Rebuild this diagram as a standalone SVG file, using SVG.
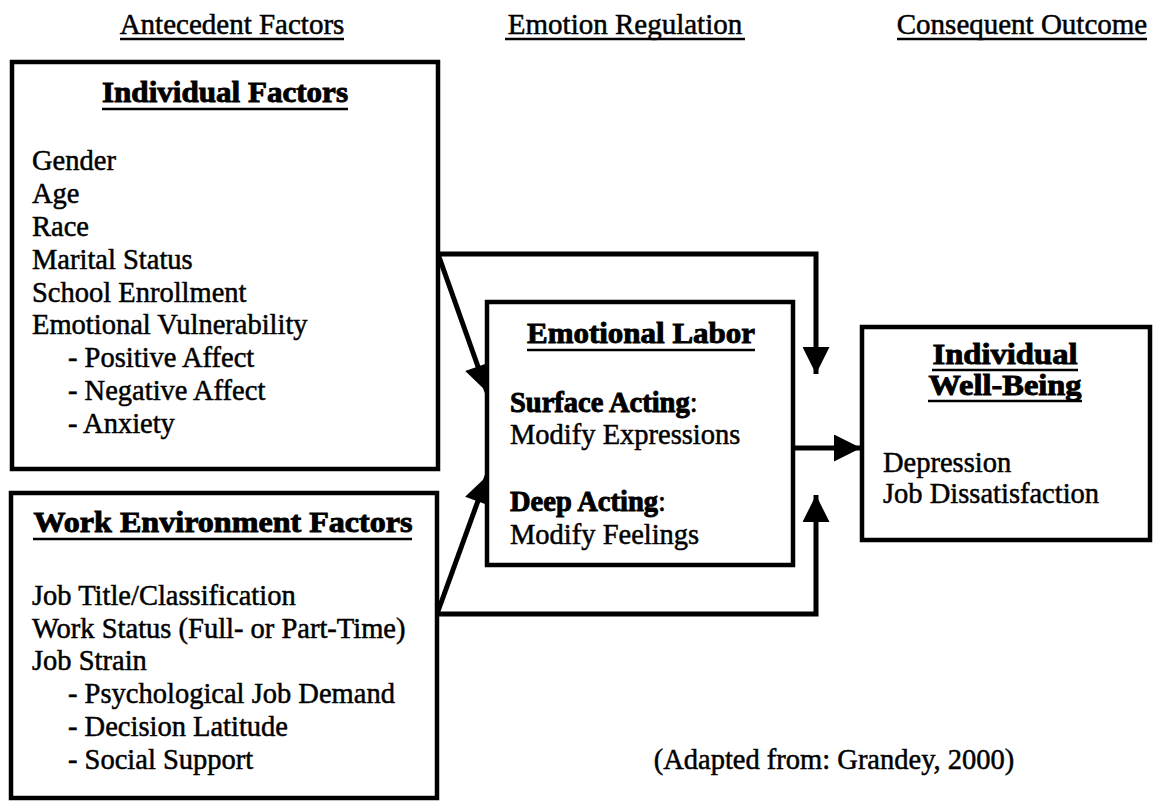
<svg xmlns="http://www.w3.org/2000/svg" width="1155" height="802" viewBox="0 0 1155 802">
  <style>
    .bg { fill: #ffffff; }
    .box { fill: #ffffff; stroke: #000000; stroke-width: 4.5; }
    .txt { font-family: "Liberation Serif", "Times New Roman", serif; font-size: 28.5px; fill: #000000; stroke: #000000; stroke-width: 0.5; }
    .hdr { font-family: "Liberation Serif", "Times New Roman", serif; font-size: 29px; fill: #000000; stroke: #000000; stroke-width: 0.5; text-anchor: middle; }
    .ttl { font-family: "Liberation Serif", "Times New Roman", serif; font-size: 29px; font-weight: bold; fill: #000000; stroke: #000000; stroke-width: 0.9; text-anchor: middle; }
    .b { font-weight: bold; stroke-width: 0.9; }
    .ul { stroke: #000000; stroke-width: 2.5; }
    .conn { fill: none; stroke: #000000; stroke-width: 5; stroke-linejoin: miter; }
  </style>
  <defs>
    <marker id="head" viewBox="0 0 10 10" refX="10" refY="5" markerWidth="5.6" markerHeight="5.4" markerUnits="strokeWidth" orient="auto">
      <path d="M0,0 L10,5 L0,10 Z" fill="#000000"/>
    </marker>
  </defs>

  <rect class="bg" x="0" y="0" width="1155" height="802"/>

  <!-- column headings -->
  <g id="headings">
    <text class="hdr" x="232" y="34">Antecedent Factors</text>
    <line class="ul" x1="120" y1="39" x2="344" y2="39"/>
    <text class="hdr" x="625" y="34">Emotion Regulation</text>
    <line class="ul" x1="505" y1="39" x2="745" y2="39"/>
    <text class="hdr" x="1022" y="34">Consequent Outcome</text>
    <line class="ul" x1="897" y1="39" x2="1147" y2="39"/>
  </g>

  <!-- connectors -->
  <g id="connectors">
    <polyline class="conn" points="438,254 816,254 816,374" marker-end="url(#head)"/>
    <line class="conn" x1="438" y1="254" x2="487" y2="392" marker-end="url(#head)"/>
    <polyline class="conn" points="437,614 816,614 816,495" marker-end="url(#head)"/>
    <line class="conn" x1="437" y1="614" x2="487" y2="476" marker-end="url(#head)"/>
    <line class="conn" x1="793" y1="448" x2="861" y2="448" marker-end="url(#head)"/>
  </g>

  <!-- antecedent: individual factors -->
  <g id="individual-factors">
    <rect class="box" x="12" y="62" width="426" height="407"/>
    <text class="ttl" x="225" y="102" textLength="246" lengthAdjust="spacingAndGlyphs">Individual Factors</text>
    <line class="ul" x1="102" y1="109" x2="348" y2="109"/>
    <text class="txt" x="32" y="170">Gender</text>
    <text class="txt" x="32" y="203">Age</text>
    <text class="txt" x="32" y="236">Race</text>
    <text class="txt" x="32" y="269">Marital Status</text>
    <text class="txt" x="32" y="302">School Enrollment</text>
    <text class="txt" x="32" y="334">Emotional Vulnerability</text>
    <text class="txt" x="68" y="367">- Positive Affect</text>
    <text class="txt" x="68" y="400">- Negative Affect</text>
    <text class="txt" x="68" y="433">- Anxiety</text>
  </g>

  <!-- antecedent: work environment factors -->
  <g id="work-environment-factors">
    <rect class="box" x="11" y="493" width="426" height="305"/>
    <text class="ttl" x="223" y="532" textLength="379" lengthAdjust="spacingAndGlyphs">Work Environment Factors</text>
    <line class="ul" x1="33" y1="539" x2="412" y2="539"/>
    <text class="txt" x="32" y="605">Job Title/Classification</text>
    <text class="txt" x="32" y="638">Work Status (Full- or Part-Time)</text>
    <text class="txt" x="32" y="670">Job Strain</text>
    <text class="txt" x="68" y="703">- Psychological Job Demand</text>
    <text class="txt" x="68" y="736">- Decision Latitude</text>
    <text class="txt" x="68" y="769">- Social Support</text>
  </g>

  <!-- emotion regulation: emotional labor -->
  <g id="emotional-labor">
    <rect class="box" x="487" y="302" width="306" height="263"/>
    <text class="ttl" x="641" y="343" textLength="228" lengthAdjust="spacingAndGlyphs">Emotional Labor</text>
    <line class="ul" x1="527" y1="350" x2="755" y2="350"/>
    <text class="txt" x="510" y="412"><tspan class="b">Surface Acting</tspan>:</text>
    <text class="txt" x="510" y="444">Modify Expressions</text>
    <text class="txt" x="510" y="511"><tspan class="b">Deep Acting</tspan>:</text>
    <text class="txt" x="510" y="544">Modify Feelings</text>
  </g>

  <!-- consequent outcome: individual well-being -->
  <g id="individual-well-being">
    <rect class="box" x="862" y="327" width="288" height="213"/>
    <text class="ttl" x="1005" y="364" textLength="145" lengthAdjust="spacingAndGlyphs">Individual</text>
    <line class="ul" x1="932" y1="370" x2="1078" y2="370"/>
    <text class="ttl" x="1005" y="395" textLength="153" lengthAdjust="spacingAndGlyphs">Well-Being</text>
    <line class="ul" x1="928" y1="401" x2="1082" y2="401"/>
    <text class="txt" x="883" y="472">Depression</text>
    <text class="txt" x="883" y="503">Job Dissatisfaction</text>
  </g>

  <text class="txt" x="834" y="769" text-anchor="middle" font-size="26">(Adapted from: Grandey, 2000)</text>
</svg>
